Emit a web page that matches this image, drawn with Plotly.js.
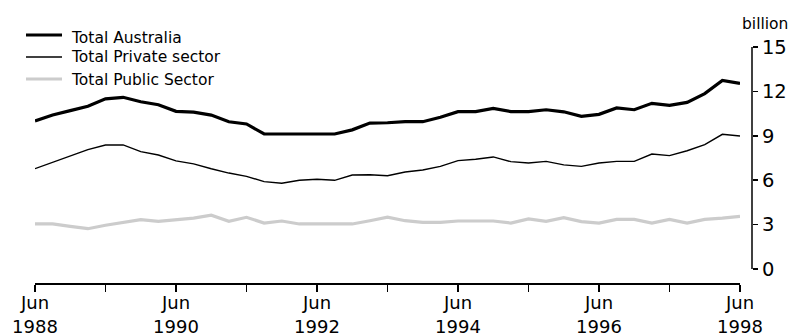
<!DOCTYPE html>
<html>
<head>
<meta charset="utf-8">
<script src="https://cdn.plot.ly/plotly-3.0.1.min.js"></script>
<style>html,body{margin:0;padding:0;background:#fff;}#chart{width:790px;height:336px;}</style>
</head>
<body>
<div id="chart"></div>
<script>
// Quarterly, Jun 1988 .. Jun 1998 (41 quarters)
const quarters = [];
const monthNames = ["Mar", "Jun", "Sep", "Dec"];
for (let y = 1988, q = 1; quarters.length < 41; ) {
  quarters.push(monthNames[q] + " " + y);
  q++; if (q > 3) { q = 0; y++; }
}

const seriesNames = ["Total Australia", "Total Private sector", "Total Public Sector"];

const totalAustralia = [10.0, 10.4, 10.7, 11.0, 11.5, 11.6, 11.3, 11.1, 10.65, 10.6,
  10.4, 9.95, 9.8, 9.12, 9.12, 9.12, 9.12, 9.12, 9.4, 9.86,
  9.88, 9.95, 9.95, 10.25, 10.63, 10.63, 10.85, 10.63, 10.63, 10.76,
  10.62, 10.31, 10.45, 10.88, 10.76, 11.19, 11.06, 11.26, 11.85, 12.74, 12.54];

const totalPrivate = [6.78, 7.2, 7.6, 8.06, 8.38, 8.38, 7.93, 7.7, 7.3, 7.1,
  6.77, 6.48, 6.26, 5.9, 5.79, 5.99, 6.06, 5.99, 6.35, 6.37,
  6.3, 6.55, 6.69, 6.93, 7.32, 7.41, 7.57, 7.25, 7.16, 7.27,
  7.03, 6.93, 7.16, 7.27, 7.27, 7.77, 7.66, 7.99, 8.4, 9.1, 8.99];

const totalPublic = [3.04, 3.04, 2.88, 2.72, 2.95, 3.13, 3.33, 3.22, 3.33, 3.44,
  3.63, 3.22, 3.49, 3.1, 3.24, 3.04, 3.04, 3.04, 3.04, 3.26,
  3.5, 3.26, 3.15, 3.15, 3.24, 3.24, 3.24, 3.1, 3.38, 3.22,
  3.47, 3.2, 3.1, 3.35, 3.35, 3.1, 3.35, 3.1, 3.35, 3.44, 3.56];

const xTickLabels = ["Jun<br>1988", "", "Jun<br>1990", "", "Jun<br>1992", "",
  "Jun<br>1994", "", "Jun<br>1996", "", "Jun<br>1998"];
const yTicks = [0, 3, 6, 9, 12, 15];

const idx = quarters.map((_, i) => i);
const font = "DejaVu Sans, sans-serif";
const styles = [
  {color: "#000000", width: 3.2},
  {color: "#000000", width: 1.4},
  {color: "#cccccc", width: 3.2}
];
const seriesValues = [totalAustralia, totalPrivate, totalPublic];

const traces = seriesValues.map((vals, k) => ({
  x: idx, y: vals, name: seriesNames[k], type: "scatter", mode: "lines",
  line: styles[k], showlegend: false
}));

// plot area geometry (pixels) for placing the custom legend
const L = 35, W = 717, T = 47, H = 236;
const px = v => (v - L) / W;
const py = v => (T + H - v) / H;

const legendLineY = [35, 57, 79];
const legendTextY = [38, 56.5, 79.5];

const shapes = [
  {type: "line", xref: "paper", yref: "y", x0: 1, x1: 1, y0: 0, y1: 15,
   line: {color: "#000", width: 1.5}}
];
const annotations = [
  {text: "billion", xref: "paper", yref: "paper", x: 1, y: py(24),
   xanchor: "right", yanchor: "middle", xshift: 38, showarrow: false,
   font: {family: font, size: 15.5, color: "#000"}}
];
seriesNames.forEach((n, k) => {
  shapes.push({type: "line", xref: "paper", yref: "paper",
    x0: px(26), x1: px(62), y0: py(legendLineY[k]), y1: py(legendLineY[k]),
    line: styles[k]});
  annotations.push({text: n, xref: "paper", yref: "paper",
    x: px(69), y: py(legendTextY[k]), xanchor: "left", yanchor: "middle",
    showarrow: false, font: {family: font, size: 15.5, color: "#000"}});
});

const layout = {
  width: 790, height: 336,
  margin: {l: L, r: 790 - L - W, t: T, b: 336 - T - H},
  paper_bgcolor: "#ffffff", plot_bgcolor: "#ffffff",
  font: {family: font, color: "#000000", size: 18},
  showlegend: false,
  xaxis: {
    domain: [0, 705 / 717], range: [0, 40], automargin: false,
    tickvals: idx.filter(i => i % 4 === 0),
    ticktext: xTickLabels,
    ticks: "outside", ticklen: 7, tickwidth: 1.5, tickcolor: "#000",
    ticklabelstandoff: -4,
    showline: true, linecolor: "#000", linewidth: 1.5,
    showgrid: false, zeroline: false,
    tickfont: {family: font, size: 18, color: "#000"}
  },
  yaxis: {
    range: [-0.95, 15], side: "right", anchor: "free", position: 1, automargin: false,
    tickvals: yTicks, ticktext: yTicks.map(String),
    ticks: "outside", ticklen: 5, tickwidth: 1.5, tickcolor: "#000",
    showline: false, showgrid: false, zeroline: false,
    tickfont: {family: font, size: 19.5, color: "#000"}
  },
  shapes: shapes,
  annotations: annotations
};

Plotly.newPlot("chart", traces, layout, {staticPlot: true, displayModeBar: false});
</script>
</body>
</html>
